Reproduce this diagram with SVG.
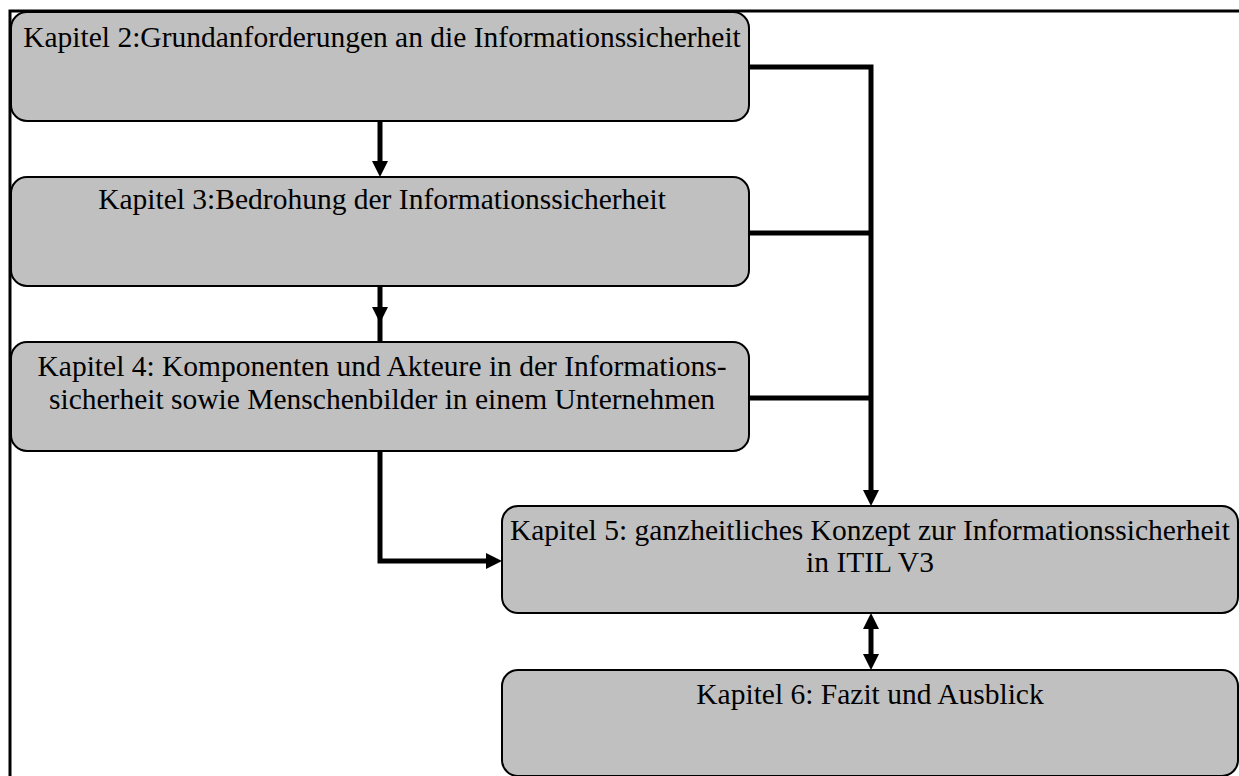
<svg xmlns="http://www.w3.org/2000/svg" width="1239" height="776" viewBox="0 0 1239 776">
<style>
.box{fill:#C0C0C0;stroke:#000;stroke-width:2}
.t{font-family:"Liberation Serif","Times New Roman",serif;font-size:29.5px;fill:#000;text-anchor:middle}
.c{fill:none;stroke:#000;stroke-width:5;stroke-linejoin:miter}
</style>
<defs>
<marker id="ah" markerUnits="userSpaceOnUse" markerWidth="17" markerHeight="17" viewBox="0 0 17 17" refX="7" refY="8.5" orient="auto-start-reverse">
<path d="M0,0.5 L16,8.5 L0,16.5 z" fill="#000"/>
</marker>
<marker id="am" markerUnits="userSpaceOnUse" markerWidth="17" markerHeight="17" viewBox="0 0 17 17" refX="16" refY="8.5" orient="auto">
<path d="M0,0.5 L16,8.5 L0,16.5 z" fill="#000"/>
</marker>
</defs>
<rect width="1239" height="776" fill="#fff"/>
<path d="M10,776 V11 H1239" fill="none" stroke="#000" stroke-width="3"/>
<g id="connectors">
<path class="c" d="M380,121 V168" marker-end="url(#ah)"/>
<path class="c" d="M380,286 V323 V342" marker-mid="url(#am)"/>
<path class="c" d="M749,67 H871 V497" marker-end="url(#ah)"/>
<path class="c" d="M749,233 H871"/>
<path class="c" d="M749,398 H871"/>
<path class="c" d="M380,451 V561 H493" marker-end="url(#ah)"/>
<path class="c" d="M871,622 V661" marker-start="url(#ah)" marker-end="url(#ah)"/>
</g>
<g id="k2">
<rect class="box" x="11" y="12" width="738" height="109" rx="16"/>
<text class="t" x="382" y="47">Kapitel 2:Grundanforderungen an die Informationssicherheit</text>
</g>
<g id="k3">
<rect class="box" x="11" y="177" width="738" height="109" rx="16"/>
<text class="t" x="382" y="209">Kapitel 3:Bedrohung der Informationssicherheit</text>
</g>
<g id="k4">
<rect class="box" x="11" y="342" width="738" height="109" rx="16"/>
<text class="t" x="382" y="376">Kapitel 4: Komponenten und Akteure in der Informations-</text>
<text class="t" x="382" y="409">sicherheit sowie Menschenbilder in einem Unternehmen</text>
</g>
<g id="k5">
<rect class="box" x="502" y="506" width="736" height="107" rx="16"/>
<text class="t" x="870" y="540">Kapitel 5: ganzheitliches Konzept zur Informationssicherheit</text>
<text class="t" x="870" y="572">in ITIL V3</text>
</g>
<g id="k6">
<rect class="box" x="502" y="670" width="736" height="106" rx="16"/>
<text class="t" x="870" y="704">Kapitel 6: Fazit und Ausblick</text>
</g>
</svg>
